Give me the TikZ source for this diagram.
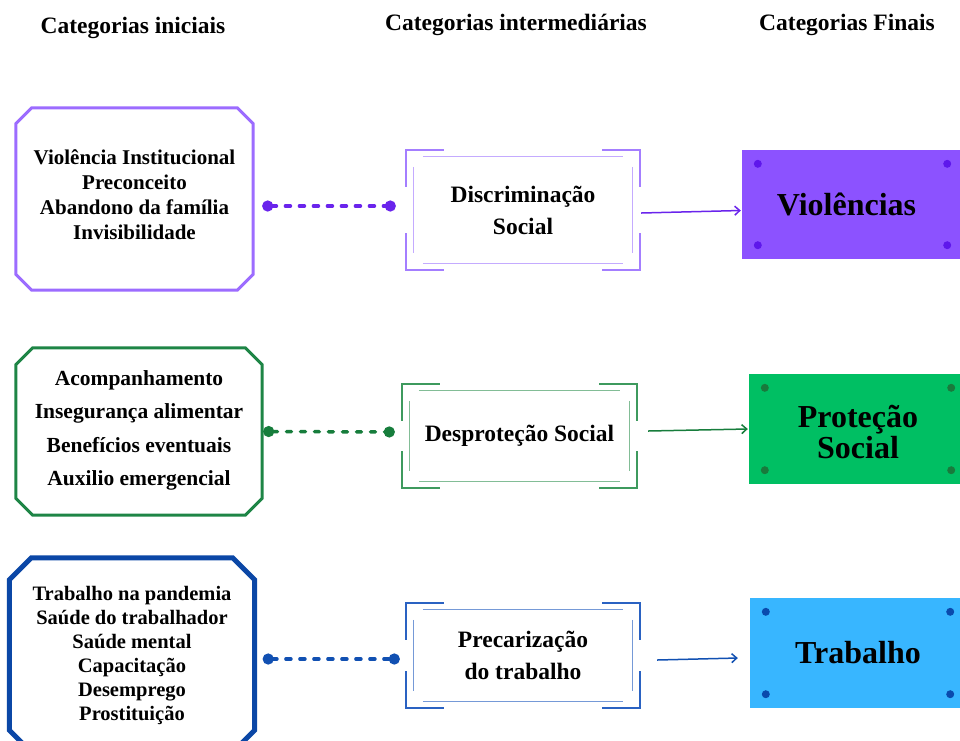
\documentclass[tikz,border=0pt]{standalone}
\usepackage{fontspec}
\setmainfont{Liberation Serif}
\usetikzlibrary{arrows.meta,calc}

\definecolor{roxoBorda}{HTML}{9C6CFF}
\definecolor{roxoMoldura}{HTML}{A47EFF}
\definecolor{roxo}{HTML}{6A24EC}
\definecolor{roxoFundo}{HTML}{8C52FF}
\definecolor{roxoPonto}{HTML}{5E17EB}
\definecolor{verdeBorda}{HTML}{1E8546}
\definecolor{verdeMoldura}{HTML}{3E9A5E}
\definecolor{verde}{HTML}{177D3C}
\definecolor{verdeFundo}{HTML}{00BF63}
\definecolor{verdePonto}{HTML}{197A3C}
\definecolor{azulBorda}{HTML}{0B47A6}
\definecolor{azulMoldura}{HTML}{2A62C2}
\definecolor{azul}{HTML}{1150B2}
\definecolor{azulFundo}{HTML}{38B6FF}
\definecolor{azulPonto}{HTML}{0A4AAD}

\newcommand{\octogono}[3]{%
     \draw[#3] ([xshift=#2]#1.north west) -- ([xshift=-#2]#1.north east) -- ([yshift=-#2]#1.north east)
          -- ([yshift=#2]#1.south east) -- ([xshift=-#2]#1.south east) -- ([xshift=#2]#1.south west)
          -- ([yshift=#2]#1.south west) -- ([yshift=-#2]#1.north west) -- cycle;}
\newcommand{\moldura}[2]{%
     \draw[#2, line width=1.5pt]
          ([yshift=-37pt]#1.north west) |- ([xshift=38pt]#1.north west)
          ([xshift=-38pt]#1.north east) -| ([yshift=-37pt]#1.north east)
          ([yshift=37pt]#1.south west) |- ([xshift=38pt]#1.south west)
          ([xshift=-38pt]#1.south east) -| ([yshift=37pt]#1.south east);
     \draw[#2!65, line width=1.1pt]
          ([xshift=17pt,yshift=-7pt]#1.north west) -- ([xshift=-17pt,yshift=-7pt]#1.north east)
          ([xshift=17pt,yshift=7pt]#1.south west) -- ([xshift=-17pt,yshift=7pt]#1.south east)
          ([xshift=8pt,yshift=-17pt]#1.north west) -- ([xshift=8pt,yshift=17pt]#1.south west)
          ([xshift=-8pt,yshift=-17pt]#1.north east) -- ([xshift=-8pt,yshift=17pt]#1.south east);}
\newcommand{\pontos}[2]{%
     \fill[#2] ([shift={(16pt,-14pt)}]#1.north west) circle (4pt)
          ([shift={(-16pt,-14pt)}]#1.north east) circle (4pt)
          ([shift={(16pt,14pt)}]#1.south west) circle (4pt)
          ([shift={(-16pt,14pt)}]#1.south east) circle (4pt);}

\begin{document}
\begin{tikzpicture}[x=1pt,y=-1pt,
     titulo/.style={font=\bfseries\fontsize{23.5}{28}\selectfont},
     inicial/.style={inner sep=0pt, align=center, font=\bfseries\fontsize{21}{25}\selectfont},
     medio/.style={inner sep=0pt, align=center, font=\bfseries\fontsize{23.5}{32}\selectfont},
     final/.style={inner sep=0pt, font=\bfseries\fontsize{32}{29}\selectfont},
     ligacao/.style={line width=3.5pt, line cap=round, dash pattern=on 5pt off 9pt, {Circle[length=11pt]}-{Circle[length=11pt]}},
     seta/.style={line width=1.5pt, -{Straight Barb[length=5pt,width=9pt]}}]
     \useasboundingbox (0,0) rectangle (960,740);
     \clip (0,0) rectangle (960,740);

     \node[titulo] (t1) at (133,28) {Categorias iniciais};
     \node[titulo] (t2) at (516,25) {Categorias intermediárias};
     \node[titulo] (t3) at (847,25) {Categorias Finais};

     \node[inicial, minimum width=237pt, minimum height=182pt] (ini1) at (134.5,199) {Violência Institucional\\Preconceito\\Abandono da família\\Invisibilidade\\[-17pt]\mbox{}};
     \node[inicial, minimum width=246pt, minimum height=167pt, font=\bfseries\fontsize{21.5}{33.5}\selectfont] (ini2) at (139,431.5) {Acompanhamento\\Insegurança alimentar\\Benefícios eventuais\\Auxilio emergencial\\[-26.5pt]\mbox{}};
     \node[inicial, minimum width=245pt, minimum height=194pt, font=\bfseries\fontsize{20.5}{24}\selectfont] (ini3) at (132,655) {Trabalho na pandemia\\Saúde do trabalhador\\Saúde mental\\Capacitação\\Desemprego\\Prostituição};
     \octogono{ini1}{16pt}{roxoBorda, line width=3pt}
     \octogono{ini2}{17pt}{verdeBorda, line width=3pt}
     \octogono{ini3}{22pt}{azulBorda, line width=5pt}

     \node[medio, minimum width=234pt, minimum height=120pt] (med1) at (523,210) {Discriminação\\Social};
     \node[medio, minimum width=235pt, minimum height=104pt] (med2) at (519.5,436) {Desproteção Social};
     \node[medio, minimum width=234pt, minimum height=105pt] (med3) at (523,655.5) {Precarização\\do trabalho};
     \moldura{med1}{roxoMoldura}
     \moldura{med2}{verdeMoldura}
     \moldura{med3}{azulMoldura}

     \node[final, fill=roxoFundo, minimum width=221pt, minimum height=109pt] (fim1) at (852.5,204.5) {Violências\hspace*{12pt}};
     \node[final, fill=verdeFundo, minimum width=218pt, minimum height=110pt] (fim2) at (858,429) {\raisebox{-7pt}[\height][\depth]{\begin{tabular}{@{}c@{}}Proteção\\Social\end{tabular}}};
     \node[final, fill=azulFundo, minimum width=216pt, minimum height=110pt] (fim3) at (858,653) {Trabalho};
     \pontos{fim1}{roxoPonto}
     \pontos{fim2}{verdePonto}
     \pontos{fim3}{azulPonto}

     \draw[ligacao, roxo, shorten <=9pt, shorten >=10pt] ([yshift=-7pt]ini1.east) -- ([yshift=4pt]med1.west);
     \draw[ligacao, verde, shorten <=1pt, shorten >=7pt] (ini2.east) -- ([yshift=4pt]med2.west);
     \draw[ligacao, azul, shorten <=8pt, shorten >=6pt] ([yshift=-4pt]ini3.east) -- ([yshift=-3.5pt]med3.west);

     \draw[seta, roxo] ([xshift=1pt,yshift=-3pt]med1.east) -- ([xshift=-1pt,yshift=-6pt]fim1.west);
     \draw[seta, verde] ([xshift=11pt,yshift=5pt]med2.east) -- ([xshift=-1pt]fim2.west);
     \draw[seta, azul] ([xshift=17pt,yshift=-4.5pt]med3.east) -- ([xshift=-12pt,yshift=-5pt]fim3.west);
\end{tikzpicture}
\end{document}
